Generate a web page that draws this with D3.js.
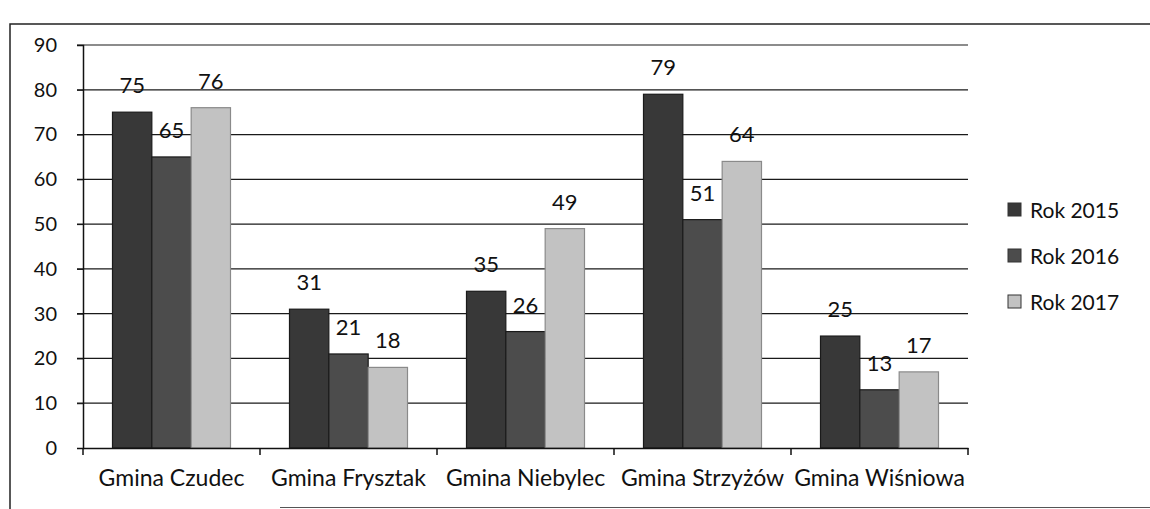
<!DOCTYPE html>
<html>
<head>
<meta charset="utf-8">
<script src="https://cdn.jsdelivr.net/npm/d3@7"></script>
<style>
  body { margin: 0; background: #fff; }
  svg text { font-family: Lato, 'Noto Sans', sans-serif; fill: #111; }
</style>
</head>
<body>
<div id="chart-area"></div>
<script>
// data
var categories = ['Gmina Czudec', 'Gmina Frysztak', 'Gmina Niebylec', 'Gmina Strzyżów', 'Gmina Wiśniowa']
var series = ['Rok 2015', 'Rok 2016', 'Rok 2017']
var rok2015 = [75, 31, 35, 79, 25]
var rok2016 = [65, 21, 26, 51, 13]
var rok2017 = [76, 18, 49, 64, 17]
var yTicks = [0, 10, 20, 30, 40, 50, 60, 70, 80, 90]

var values = [rok2015, rok2016, rok2017]
var colors = ['#383838', '#4c4c4c', '#c2c2c2']

var W = 1150
var H = 509
var margin = {left: 83, right: 182, top: 45, bottom: 61}
var width = W - margin.left - margin.right
var height = H - margin.top - margin.bottom

var svg = d3.select('#chart-area')
  .append('svg')
  .attr('width', W)
  .attr('height', H)

// outer frame (scanned page)
svg.append('path')
  .attr('d', 'M1150,24 H10 V509')
  .attr('fill', 'none')
  .attr('stroke', '#222')
  .attr('stroke-width', 1.5)
svg.append('line')
  .attr('x1', 280).attr('x2', 1150)
  .attr('y1', 507.5).attr('y2', 507.5)
  .attr('stroke', '#555')

var g = svg.append('g')
  .attr('transform', 'translate(' + margin.left + ', ' + margin.top + ')')

// scales
var x0 = d3.scaleBand()
  .domain(categories)
  .range([0, width])
  .padding(0)

// excel-like gap width 150%
var x1 = d3.scaleBand()
  .domain(series)
  .range([0, x0.bandwidth()])
  .paddingInner(0)
  .paddingOuter(0.75)

var y = d3.scaleLinear()
  .domain([0, 90])
  .range([height, 0])

// gridlines
g.selectAll('.grid')
  .data(yTicks.slice(1))
  .enter().append('line')
  .attr('class', 'grid')
  .attr('x1', -6)
  .attr('x2', width)
  .attr('y1', function (d) { return y(d) })
  .attr('y2', function (d) { return y(d) })
  .attr('stroke', '#1a1a1a')
  .attr('stroke-width', 1.2)

// y axis
var yAxisCall = d3.axisLeft(y)
  .tickValues(yTicks)
  .tickSize(6)
  .tickPadding(20)
var yAxisGroup = g.append('g')
  .attr('class', 'y-axis')
  .call(yAxisCall)
yAxisGroup.select('.domain').attr('stroke', '#111').attr('stroke-width', 1.5)
yAxisGroup.selectAll('line').attr('stroke', '#111')
yAxisGroup.selectAll('text')
  .attr('font-size', '20px')
  .attr('fill', '#111')
  .style('font-family', 'Lato, sans-serif')

// bars
var groups = g.selectAll('.cat')
  .data(categories)
  .enter().append('g')
  .attr('class', 'cat')
  .attr('transform', function (d) { return 'translate(' + x0(d) + ',0)' })

groups.selectAll('rect')
  .data(function (d, i) {
    return series.map(function (s, j) { return {s: s, v: values[j][i], j: j} })
  })
  .enter().append('rect')
  .attr('x', function (d) { return x1(d.s) })
  .attr('width', x1.bandwidth())
  .attr('y', function (d) { return y(d.v) })
  .attr('height', function (d) { return height - y(d.v) })
  .attr('fill', function (d) { return colors[d.j] })
  .attr('stroke', function (d) { return d.j === 2 ? '#8a8a8a' : '#1a1a1a' })
  .attr('stroke-width', 1.2)

// value labels
groups.selectAll('.val')
  .data(function (d, i) {
    return series.map(function (s, j) { return {s: s, v: values[j][i]} })
  })
  .enter().append('text')
  .attr('class', 'val')
  .attr('x', function (d) { return x1(d.s) + x1.bandwidth() / 2 })
  .attr('y', function (d) { return y(d.v) - 19 })
  .attr('text-anchor', 'middle')
  .attr('font-size', '22px')
  .text(function (d) { return d.v })

// x axis
var xAxisCall = d3.axisBottom(x0)
  .tickSize(0)
  .tickPadding(22)
var xAxisGroup = g.append('g')
  .attr('class', 'x-axis')
  .attr('transform', 'translate(0, ' + height + ')')
  .call(xAxisCall)
xAxisGroup.select('.domain').attr('stroke', '#111').attr('stroke-width', 1.5)
xAxisGroup.selectAll('text')
  .attr('font-size', '23px')
  .attr('fill', '#111')
  .style('font-family', 'Lato, sans-serif')

// category separators
g.selectAll('.sep')
  .data(d3.range(categories.length + 1))
  .enter().append('line')
  .attr('class', 'sep')
  .attr('x1', function (d) { return d * x0.step() })
  .attr('x2', function (d) { return d * x0.step() })
  .attr('y1', height)
  .attr('y2', height + 7)
  .attr('stroke', '#111')
  .attr('stroke-width', 1.5)

// legend
var legend = svg.append('g')
  .attr('transform', 'translate(1008, 218)')
series.forEach(function (s, j) {
  var row = legend.append('g').attr('transform', 'translate(0,' + j * 46 + ')')
  row.append('rect')
    .attr('x', 0).attr('y', -15)
    .attr('width', 13).attr('height', 13)
    .attr('fill', colors[j])
    .attr('stroke', '#333')
  row.append('text')
    .attr('x', 22).attr('y', 0)
    .attr('font-size', '21px')
    .text(s)
})
</script>
</body>
</html>
